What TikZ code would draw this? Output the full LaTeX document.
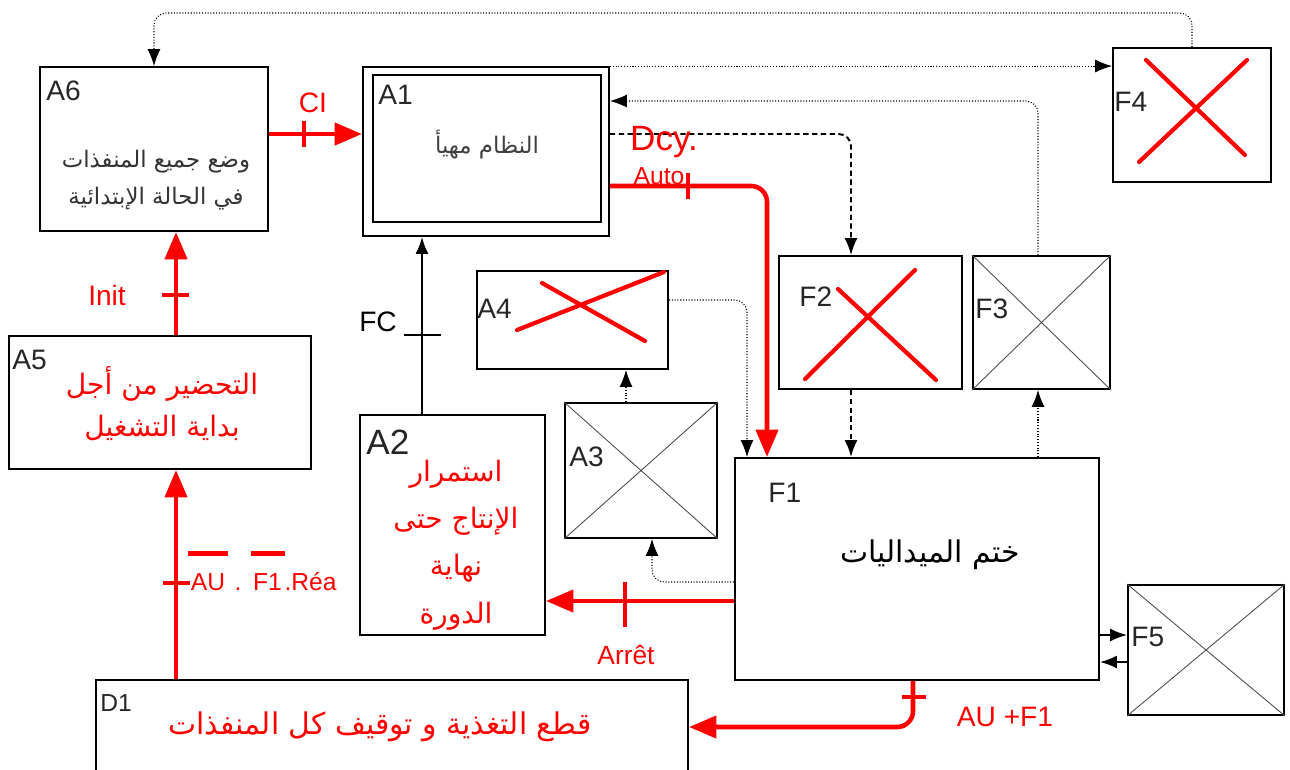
\documentclass[tikz,border=0pt]{standalone}
\usepackage{fontspec}
\setmainfont{Liberation Sans}
\newfontfamily\arabe[Script=Arabic]{DejaVu Sans}
\TeXXeTstate=1
\usetikzlibrary{arrows.meta,fit,calc}
\newcommand\barre[1]{\leavevmode\vbox{\hrule height 2.4pt\kern 10pt\hbox{\kern1.5pt#1\kern1.5pt}}}
\tikzset{
    etape/.style={
        draw,
        line width=1.1pt,
        inner sep=0pt
    },
    repere/.style={anchor=base west, inner sep=0pt, text=black!85,
        font=\fontsize{16}{16}\selectfont},
    croixGrise/.style={draw=black!70, line width=0.5pt},
    croixRouge/.style={draw=red, line width=2.4pt, line cap=round},
    lien/.style={-{Latex[length=3.4mm,width=2.6mm]}, line width=0.6pt},
    lienPoint/.style={lien, densely dotted, rounded corners=7pt},
    lienTiret/.style={lien, densely dashed, line width=1.1pt, rounded corners=7pt},
    lienRouge/.style={-{Triangle[length=5.5mm,width=4.4mm]}, draw=red,
        line width=2.6pt, rounded corners=9pt},
    coche/.style={draw=red, line width=2.6pt},
    texteAr/.style={align=center, inner sep=0pt},
    etiqRouge/.style={text=red, inner sep=0pt, font=\fontsize{16}{16}\selectfont}
}

\begin{document}
\begin{tikzpicture}[x=0.02cm, y=-0.02cm]
    \useasboundingbox (0,0) rectangle (1290,769);

    % etats
    \node[etape, fit={(40,67) (268,231)}] (A6) {};
    \node[etape, fit={(363,67) (609,236)}] (A1) {};
    \node[etape, fit={(373,75) (601,222)}] (A1int) {};
    \node[etape, fit={(9,336) (311,469)}] (A5) {};
    \node[etape, fit={(360,415) (545,635)}] (A2) {};
    \node[etape, fit={(477,271) (668,369)}] (A4) {};
    \node[etape, fit={(565,403) (717,538)}] (A3) {};
    \node[etape, fit={(779,256) (962,389)}] (F2) {};
    \node[etape, fit={(973,256) (1110,389)}] (F3) {};
    \node[etape, fit={(1113,48) (1271,182)}] (F4) {};
    \node[etape, fit={(735,458) (1099,680)}] (F1) {};
    \node[etape, fit={(1128,585) (1284,715)}] (F5) {};
    \node[etape, fit={(96,680) (688,790)}] (D1) {};

    % croix
    \draw[croixGrise] (A3.north west) -- (A3.south east) (A3.south west) -- (A3.north east);
    \draw[croixGrise] (F3.north west) -- (F3.south east) (F3.south west) -- (F3.north east);
    \draw[croixGrise] (F5.north west) -- (F5.south east) (F5.south west) -- (F5.north east);
    \draw[croixRouge] (517,330) -- (664,272) (542,283) -- (645,341);
    \draw[croixRouge] (805,379) -- (915,270) (838,289) -- (936,380);
    \draw[croixRouge] (1146,60) -- (1245,155) (1139,162) -- (1247,60);

    % reperes
    \node[repere] (nA6) at (46,100) {A6};
    \node[repere] (nA1) at (378,104) {A1};
    \node[repere] (nA5) at (12,369) {A5};
    \node[repere, font=\fontsize{20}{20}\selectfont] (nA2) at (366,454) {A2};
    \node[repere] (nA4) at (477,318) {A4};
    \node[repere] (nA3) at (569,466) {A3};
    \node[repere] (nF2) at (799,306) {F2};
    \node[repere] (nF3) at (975,318) {F3};
    \node[repere] (nF4) at (1114,111) {F4};
    \node[repere] (nF1) at (768,502) {F1};
    \node[repere] (nF5) at (1131,646) {F5};
    \node[repere, font=\fontsize{14}{14}\selectfont] (nD1) at (100,711) {D1};

    % textes
    \node[texteAr, text=black!80, font=\arabe\fontsize{13}{21}\selectfont] (tA6) at (156,180)
        {\beginR وضع جميع المنفذات\endR\\\beginR في الحالة الإبتدائية\endR};
    \node[texteAr, text=black!75, font=\arabe\fontsize{13}{16}\selectfont] (tA1) at (487,145)
        {\beginR النظام مهيأ\endR};
    \node[texteAr, text=red, font=\arabe\fontsize{16}{24}\selectfont] (tA5) at (162,404)
        {\beginR التحضير من أجل\endR\\\beginR بداية التشغيل\endR};
    \node[texteAr, text=red, font=\arabe\fontsize{16}{27}\selectfont] (tA2) at (456,545)
        {\beginR استمرار\endR\\\beginR الإنتاج حتى\endR\\\beginR نهاية\endR\\\beginR الدورة\endR};
    \node[texteAr, text=black, font=\arabe\fontsize{17}{20}\selectfont] (tF1) at (930,555)
        {\beginR ختم الميداليات\endR};
    \node[texteAr, text=red, font=\arabe\fontsize{17}{20}\selectfont] (tD1) at (380,727)
        {\beginR قطع التغذية و توقيف كل المنفذات\endR};

    % coordonnees des liaisons
    \coordinate (yHaut) at (0,13);
    \coordinate (yF3) at (0,101);
    \coordinate (yDash) at (0,134);
    \coordinate (yAuto) at (0,186);
    \coordinate (yA4) at (0,300);
    \coordinate (yA3) at (0,582);
    \coordinate (yArret) at (0,601);
    \coordinate (yCI) at (0,134);
    \coordinate (yAU) at (0,727);
    \coordinate (yF5a) at (0,635);
    \coordinate (yF5b) at (0,662);
    \coordinate (xF2) at (851,0);
    \coordinate (xRouge) at (767,0);
    \coordinate (xF3) at (1038,0);
    \coordinate (xA4) at (747,0);
    \coordinate (xA3) at (626,0);
    \coordinate (xA3b) at (652,0);
    \coordinate (xFC) at (422,0);
    \coordinate (xInit) at (176,0);
    \coordinate (xAU) at (913,0);

    % liaisons noires
    \draw[lienPoint] (F4.north) -- (F4.north |- yHaut) -- (A6.north |- yHaut) -- (A6.north);
    \draw[lienPoint] (A1.north east) -- (F4.west |- A1.north east);
    \draw[lienPoint] (F3.north -| xF3) |- (A1.east |- yF3);
    \draw[lienTiret] (A1.east |- yDash) -| (F2.north -| xF2);
    \draw[lienTiret] (F2.south -| xF2) -- (F1.north -| xF2);
    \draw[lienPoint] (F1.north -| xF3) -- (F3.south -| xF3);
    \draw[lienPoint] (A4.east |- yA4) -| (F1.north -| xA4);
    \draw[lienPoint] (A3.north -| xA3) -- (A4.south -| xA3);
    \draw[lienPoint] (F1.west |- yA3) -| (A3.south -| xA3b);
    \draw[lien, line width=1pt] (A2.north -| xFC) -- (A1.south -| xFC);
    \draw[lien, line width=1pt] (F1.east |- yF5a) -- (F5.west |- yF5a);
    \draw[lien, line width=1pt] (F5.west |- yF5b) -- (F1.east |- yF5b);

    % liaisons rouges
    \draw[lienRouge] (A1.east |- yAuto) -| (F1.north -| xRouge);
    \draw[lienRouge] (F1.west |- yArret) -- (A2.east |- yArret);
    \draw[lienRouge] (A6.east |- yCI) -- (A1.west |- yCI);
    \draw[lienRouge] (A5.north -| xInit) -- (A6.south -| xInit);
    \draw[lienRouge] (D1.north -| xInit) -- (A5.south -| xInit);
    \draw[lienRouge] (F1.south -| xAU) |- (D1.east |- yAU);

    % receptivites
    \draw[coche] (304,121) -- (304,147);
    \draw[coche] (688,173) -- (688,199);
    \draw[draw=black, line width=1.2pt] (404,335) -- (441,335);
    \draw[coche] (162,295) -- (189,295);
    \draw[coche] (163,583) -- (190,583);
    \draw[coche] (625,582) -- (625,627);
    \draw[coche] (902,697) -- (926,697);

    \node[etiqRouge] (rCI) at (313,103) {CI};
    \node[etiqRouge, font=\fontsize{20}{20}\selectfont] (rDcy) at (664,142) {Dcy.};
    \node[etiqRouge, font=\fontsize{14}{14}\selectfont] (rAuto) at (659,176) {Auto};
    \node[inner sep=0pt, font=\fontsize{16}{16}\selectfont] (rFC) at (378,322) {FC};
    \node[etiqRouge] (rInit) at (107,295) {Init};
    \node[etiqRouge, anchor=base west, font=\fontsize{14}{14}\selectfont] (rRea) at (188,590)
        {\barre{AU} . \barre{F1}.Réa};
    \node[etiqRouge, font=\fontsize{15}{15}\selectfont] (rArret) at (626,655) {Arrêt};
    \node[etiqRouge] (rAU) at (1005,717) {AU +F1};
\end{tikzpicture}
\end{document}
